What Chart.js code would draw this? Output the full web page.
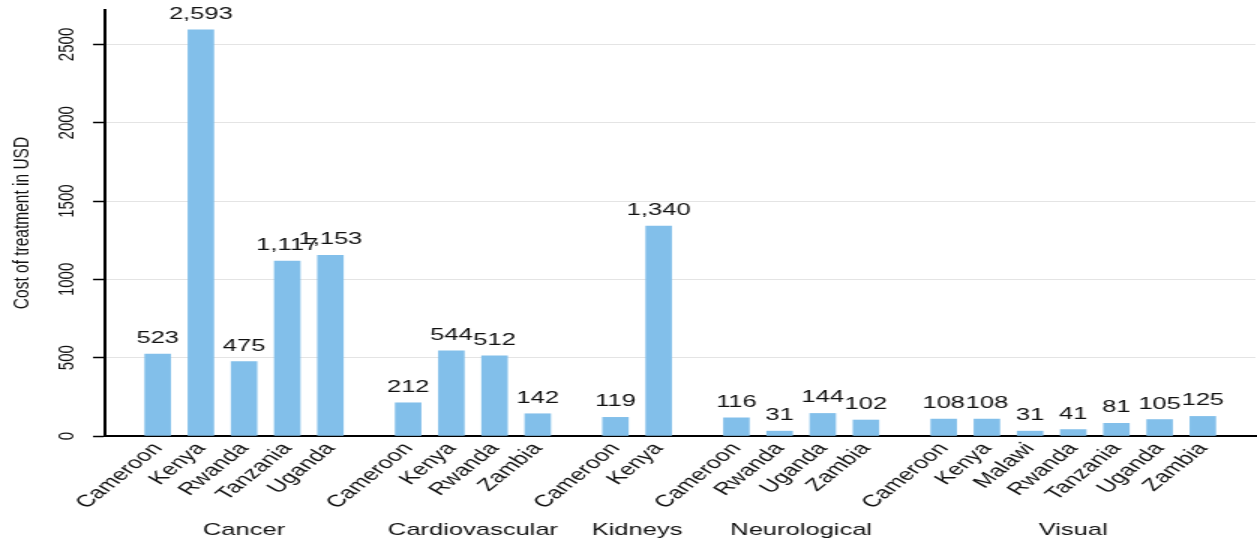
<!DOCTYPE html>
<html>
<head>
<meta charset="utf-8">
<script src="https://cdn.jsdelivr.net/npm/chart.js@4.4.1/dist/chart.umd.min.js"></script>
<style>
  html, body { margin: 0; padding: 0; background: #fff; }
</style>
</head>
<body>
<!-- the reference is a horizontally stretched export, so the canvas is too -->
<canvas id="chart" width="838" height="540" style="display:block;width:1257px;height:540px"></canvas>
<script>
const groups = ['Cancer', 'Cardiovascular', 'Kidneys', 'Neurological', 'Visual'];

const cancerCountries = ['Cameroon', 'Kenya', 'Rwanda', 'Tanzania', 'Uganda'];
const cancerCosts = [523, 2593, 475, 1117, 1153];

const cardioCountries = ['Cameroon', 'Kenya', 'Rwanda', 'Zambia'];
const cardioCosts = [212, 544, 512, 142];

const kidneyCountries = ['Cameroon', 'Kenya'];
const kidneyCosts = [119, 1340];

const neuroCountries = ['Cameroon', 'Rwanda', 'Uganda', 'Zambia'];
const neuroCosts = [116, 31, 144, 102];

const visualCountries = ['Cameroon', 'Kenya', 'Malawi', 'Rwanda', 'Tanzania', 'Uganda', 'Zambia'];
const visualCosts = [108, 108, 31, 41, 81, 105, 125];

const yTicks = [0, 500, 1000, 1500, 2000, 2500];

const groupCountries = [cancerCountries, cardioCountries, kidneyCountries, neuroCountries, visualCountries];
const groupCosts = [cancerCosts, cardioCosts, kidneyCosts, neuroCosts, visualCosts];

const FONT = '"Liberation Sans", Arial, sans-serif';
const groupGap = 1.8;   // distance between last bar of a group and first of the next
const edgePad = 1.22;

// flatten groups onto one x axis, leaving a gap between groups
const labels = [];
const points = [];
const groupMids = [];
let pos = 0;
groupCountries.forEach((countries, g) => {
  if (g > 0) pos += groupGap - 1;
  const start = pos;
  countries.forEach((c, i) => {
    labels.push(c);
    points.push({ x: pos, y: groupCosts[g][i] });
    pos += 1;
  });
  groupMids.push((start + pos - 1) / 2);
});

const barLabels = {
  id: 'barLabels',
  afterDraw(chart) {
    const ctx = chart.ctx;
    const meta = chart.getDatasetMeta(0);
    ctx.save();
    ctx.font = '17px ' + FONT;
    ctx.fillStyle = '#111';
    ctx.textAlign = 'center';
    ctx.textBaseline = 'alphabetic';
    meta.data.forEach((bar, i) => {
      ctx.fillText(points[i].y.toLocaleString('en-US'), bar.x, bar.y - 11);
    });
    const xScale = chart.scales.x;
    groups.forEach((g, i) => {
      ctx.fillText(g, xScale.getPixelForValue(groupMids[i]), 535);
    });
    ctx.restore();
  }
};

new Chart(document.getElementById('chart'), {
  type: 'bar',
  data: {
    datasets: [{
      data: points,
      backgroundColor: '#82bfea',
      borderWidth: 0,
      barThickness: 17
    }]
  },
  options: {
    responsive: false,
    animation: false,
    layout: { padding: { top: 10, right: 1, left: 0, bottom: 0 } },
    plugins: {
      legend: { display: false },
      tooltip: { enabled: false }
    },
    scales: {
      x: {
        type: 'linear',
        offset: false,
        min: -edgePad,
        max: points[points.length - 1].x + edgePad,
        afterBuildTicks: s => { s.ticks = points.map(p => ({ value: p.x })); },
        afterFit: s => { s.height = 104; },
        grid: { display: false, drawTicks: false },
        border: { display: true, color: '#000', width: 2 },
        ticks: {
          autoSkip: false,
          minRotation: 50,
          maxRotation: 50,
          padding: 3,
          color: '#111',
          font: { family: FONT, size: 17 },
          callback: (v, i) => labels[i]
        }
      },
      y: {
        min: 0,
        max: 2720,
        afterBuildTicks: s => { s.ticks = yTicks.map(v => ({ value: v })); },
        afterFit: s => { s.width = 70; },
        grid: { color: '#e4e4e4', lineWidth: 1, tickColor: '#000', tickLength: 8, tickWidth: 1.5 },
        border: { color: '#000', width: 2 },
        ticks: {
          minRotation: 90,
          maxRotation: 90,
          crossAlign: 'center',
          padding: 0,
          color: '#111',
          font: { family: FONT, size: 15 },
          callback: v => String(v)
        },
        title: {
          display: true,
          text: 'Cost of treatment in USD',
          color: '#111',
          font: { family: FONT, size: 15.5 },
          padding: { top: 5, bottom: 0 }
        }
      }
    }
  },
  plugins: [barLabels]
});
</script>
</body>
</html>
